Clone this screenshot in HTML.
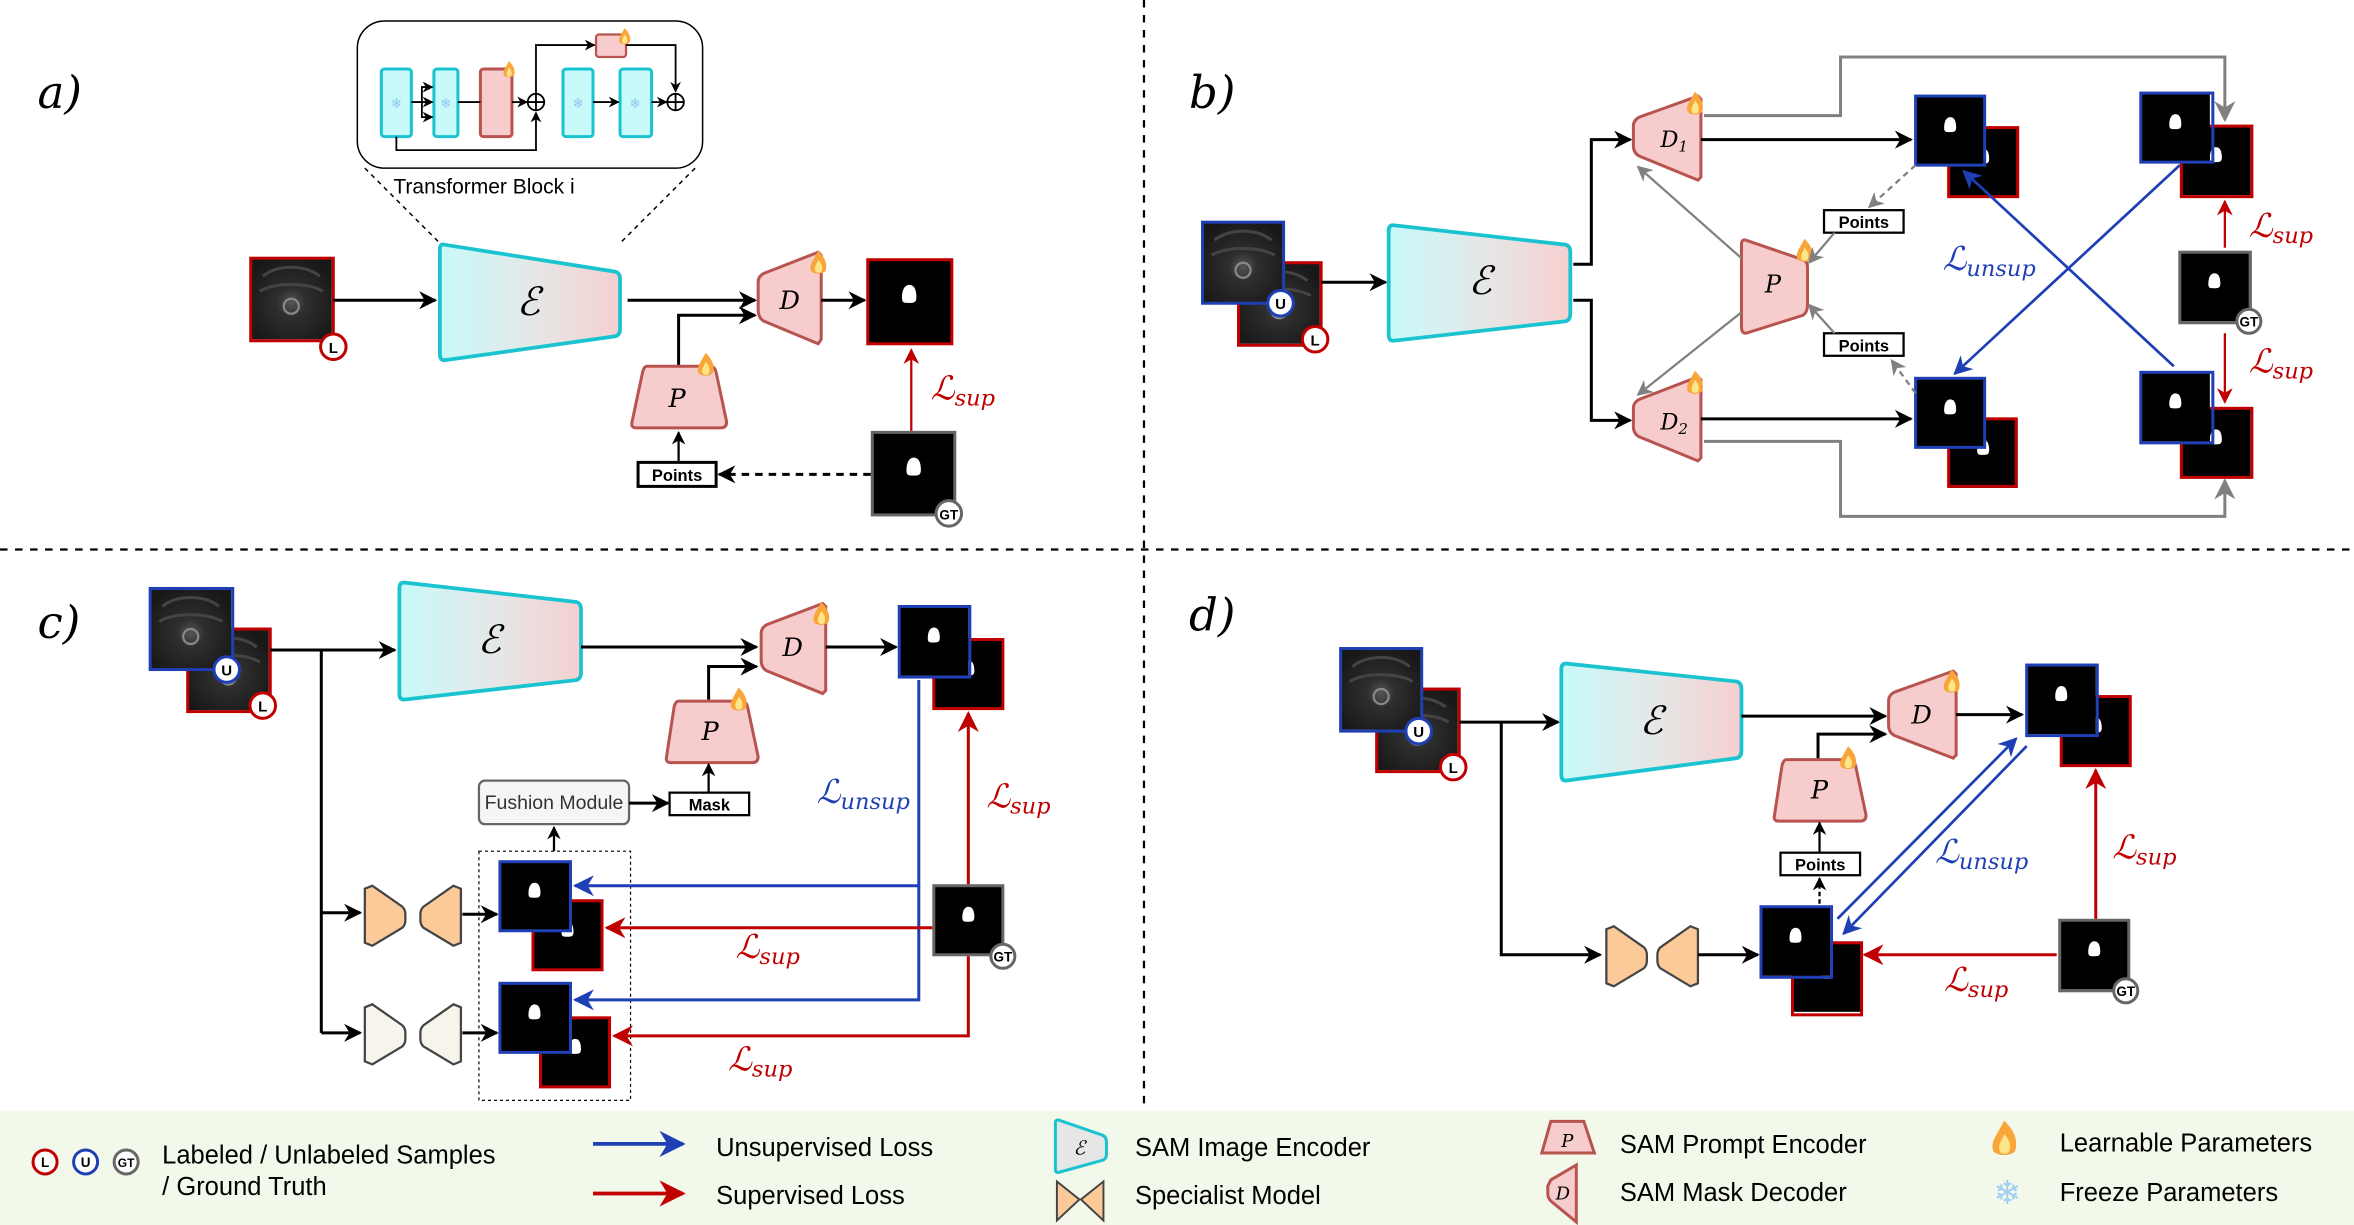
<!DOCTYPE html>
<html><head><meta charset="utf-8"><style>
html,body{margin:0;padding:0;background:#fff;}
svg{display:block;}
text{font-family:"Liberation Sans","DejaVu Sans",sans-serif;}
.m{font-family:"DejaVu Serif","Liberation Serif",serif;font-style:italic;}
</style></head><body>
<svg width="2354" height="1225" viewBox="0 0 1568 816" xmlns="http://www.w3.org/2000/svg">
<defs>
<linearGradient id="eg" x1="0" x2="1" y1="0" y2="0"><stop offset="0" stop-color="#c8fafa"/><stop offset="0.55" stop-color="#e6e6e6"/><stop offset="1" stop-color="#f6cfcf"/></linearGradient>
<radialGradient id="mri" cx="0.5" cy="0.55" r="0.6"><stop offset="0" stop-color="#555"/><stop offset="0.3" stop-color="#2e2e2e"/><stop offset="1" stop-color="#181818"/></radialGradient>
<marker id="ak" viewBox="0 0 10 10" refX="9" refY="5" markerWidth="6" markerHeight="6" orient="auto"><path d="M0,0 L10,5 L0,10 L3,5z" fill="#000"/></marker>
<marker id="ab" viewBox="0 0 10 10" refX="9" refY="5" markerWidth="7" markerHeight="7" orient="auto"><path d="M0,0 L10,5 L0,10 L3,5z" fill="#1f3fb5"/></marker>
<marker id="ar" viewBox="0 0 10 10" refX="9" refY="5" markerWidth="7" markerHeight="7" orient="auto"><path d="M0,0 L10,5 L0,10 L3,5z" fill="#c00000"/></marker>
<marker id="ag" viewBox="0 0 10 10" refX="9" refY="5" markerWidth="7" markerHeight="7" orient="auto"><path d="M0,0 L10,5 L0,10 L3,5z" fill="#808080"/></marker>
<g id="fl"><path d="M0,-9 C5,-4 6,0 5,4 C4,7 -4,7 -5,4 C-6,0 -3,-3 0,-9z" fill="#f9a53a"/><path d="M0,-3 C3,0 3,3 2,5 C1,6 -2,6 -2,4 C-3,2 -1,0 0,-3z" fill="#fde68a"/></g>
<g id="mk"><rect x="0" y="0" width="46" height="46" fill="#000"/><path d="M19,21 C19,16 21,14 23,14 C26,14 27,17 27,21 C27,24 25,24 23,24 C20,24 19,24 19,21z" fill="#fff"/></g>
<g id="img"><rect x="0" y="0" width="54" height="54" fill="url(#mri)"/><circle cx="27" cy="32" r="5" fill="none" stroke="#888" stroke-width="1.5"/><path d="M8,12 C18,4 36,4 46,12 M6,22 C16,16 38,16 48,22" stroke="#444" fill="none" stroke-width="2"/></g>
</defs>

<!-- dividers -->
<line x1="762" y1="0" x2="762" y2="738" stroke="#000" stroke-width="1.5" stroke-dasharray="5,5"/>
<line x1="0" y1="366" x2="1568" y2="366" stroke="#000" stroke-width="1.5" stroke-dasharray="5,5"/>

<!-- ========== panel a ========== -->
<text x="25" y="72" class="m" font-size="30">a)</text>
<rect x="238" y="14" width="230" height="98" rx="18" fill="#fff" stroke="#000" stroke-width="1"/>
<rect x="254" y="46" width="20" height="45" rx="2" fill="#c8fafa" stroke="#19c3cf" stroke-width="2"/>
<rect x="289" y="46" width="16" height="45" rx="2" fill="#c8fafa" stroke="#19c3cf" stroke-width="2"/>
<rect x="320" y="46" width="21" height="45" rx="2" fill="#f6cccc" stroke="#b85450" stroke-width="2"/>
<rect x="375" y="46" width="20" height="45" rx="2" fill="#c8fafa" stroke="#19c3cf" stroke-width="2"/>
<rect x="413" y="46" width="21" height="45" rx="2" fill="#c8fafa" stroke="#19c3cf" stroke-width="2"/>
<rect x="397" y="23" width="20" height="15" rx="2" fill="#f6cccc" stroke="#b85450" stroke-width="1.5"/>
<use href="#fl" transform="translate(339,47) scale(0.7)"/><use href="#fl" transform="translate(416,25) scale(0.7)"/>
<text x="264" y="72" font-size="9" fill="#8cc8f0" text-anchor="middle">❄</text><text x="297" y="72" font-size="9" fill="#8cc8f0" text-anchor="middle">❄</text>
<text x="385" y="72" font-size="9" fill="#8cc8f0" text-anchor="middle">❄</text><text x="423" y="72" font-size="9" fill="#8cc8f0" text-anchor="middle">❄</text>
<g stroke="#000" stroke-width="1.2" fill="none">
<path d="M274,68 H288" marker-end="url(#ak)"/><path d="M281,68 V58 H288" marker-end="url(#ak)"/><path d="M281,68 V78 H288" marker-end="url(#ak)"/>
<path d="M305,68 H320"/><path d="M341,68 H351" marker-end="url(#ak)"/>
<circle cx="357" cy="68" r="5.5"/><path d="M351.5,68 H362.5 M357,62.5 V73.5"/>
<path d="M264,91 V100 H357 V75" marker-end="url(#ak)"/>
<path d="M357,62 V30 H396" marker-end="url(#ak)"/><path d="M417,30 H450 V61" marker-end="url(#ak)"/>
<path d="M395,68 H412" marker-end="url(#ak)"/><path d="M434,68 H444" marker-end="url(#ak)"/>
<circle cx="450" cy="68" r="5.5"/><path d="M444.5,68 H455.5 M450,62.5 V73.5"/>
</g>
<text x="262" y="129" font-size="14">Transformer Block i</text>
<line x1="243" y1="112" x2="293" y2="162" stroke="#000" stroke-dasharray="3,3"/>
<line x1="463" y1="112" x2="413" y2="162" stroke="#000" stroke-dasharray="3,3"/>
<use href="#img" transform="translate(167,172)"/><rect x="167" y="172" width="55" height="55" fill="none" stroke="#c00000" stroke-width="2"/>
<circle cx="222" cy="231" r="8.5" fill="#fff" stroke="#c00000" stroke-width="2"/><text x="222" y="235" font-size="10" font-weight="bold" text-anchor="middle">L</text>
<line x1="222" y1="200" x2="290" y2="200" stroke="#000" stroke-width="2" marker-end="url(#ak)"/>
<path d="M296,163 L410,181 Q413,182 413,186 L413,219 Q413,223 410,224 L296,240 Q293,240 293,236 L293,166 Q293,162 296,163z" fill="url(#eg)" stroke="#19c3cf" stroke-width="2.5"/>
<text x="352" y="210" class="m" font-size="26" text-anchor="middle">ℰ</text>
<line x1="418" y1="200" x2="503" y2="200" stroke="#000" stroke-width="2" marker-end="url(#ak)"/>
<path d="M452,244 V210 H503" stroke="#000" stroke-width="2" fill="none" marker-end="url(#ak)"/>
<path d="M509,182 L545,168 L547,170 L547,226 L545,229 L509,214 Q505,212 505,206 L505,188 Q505,184 509,182z" fill="#f6cccc" stroke="#b85450" stroke-width="2"/>
<use href="#fl" transform="translate(545,176)"/>
<text x="526" y="206" class="m" font-size="17" text-anchor="middle">D</text>
<line x1="547" y1="200" x2="576" y2="200" stroke="#000" stroke-width="2" marker-end="url(#ak)"/>
<use href="#mk" transform="translate(578,173) scale(1.2)"/><rect x="578" y="173" width="56" height="56" fill="none" stroke="#c00000" stroke-width="2"/>
<line x1="607" y1="287" x2="607" y2="233" stroke="#c00000" stroke-width="1.5" marker-end="url(#ar)"/>
<text x="620" y="266" class="m" font-size="22" fill="#c00000">ℒ<tspan font-size="15" dy="4">sup</tspan></text>
<use href="#mk" transform="translate(581,288) scale(1.2)"/><rect x="581" y="288" width="55" height="55" fill="none" stroke="#666" stroke-width="2"/>
<circle cx="632" cy="342" r="8.5" fill="#fff" stroke="#666" stroke-width="2"/><text x="632" y="346" font-size="9" font-weight="bold" text-anchor="middle">GT</text>
<line x1="580" y1="316" x2="479" y2="316" stroke="#000" stroke-width="2" stroke-dasharray="5,4" marker-end="url(#ak)"/>
<rect x="425" y="308" width="52" height="16" fill="#fff" stroke="#000" stroke-width="2"/><text x="451" y="320.5" font-size="11" font-weight="bold" text-anchor="middle">Points</text>
<line x1="452" y1="307" x2="452" y2="288" stroke="#000" stroke-width="1.5" marker-end="url(#ak)"/>
<path d="M431,244 L473,244 Q476,244 477,248 L484,281 Q484,285 480,285 L424,285 Q420,285 421,281 L428,248 Q429,244 431,244z" fill="#f6cccc" stroke="#b85450" stroke-width="2"/>
<use href="#fl" transform="translate(470,244)"/>
<text x="451" y="271" class="m" font-size="17" text-anchor="middle">P</text>

<!-- ========== panel b ========== -->
<text x="792" y="72" class="m" font-size="30">b)</text>
<use href="#img" transform="translate(825,175)"/><rect x="825" y="175" width="55" height="55" fill="none" stroke="#c00000" stroke-width="2"/>
<use href="#img" transform="translate(801,148)"/><rect x="801" y="148" width="54" height="54" fill="none" stroke="#1f3fb5" stroke-width="2"/>
<circle cx="853" cy="202" r="8.5" fill="#fff" stroke="#1f3fb5" stroke-width="2"/><text x="853" y="206" font-size="10" font-weight="bold" text-anchor="middle">U</text>
<circle cx="876" cy="226" r="8.5" fill="#fff" stroke="#c00000" stroke-width="2"/><text x="876" y="230" font-size="10" font-weight="bold" text-anchor="middle">L</text>
<line x1="880" y1="188" x2="923" y2="188" stroke="#000" stroke-width="2" marker-end="url(#ak)"/>
<path d="M928,150 L1043,163 Q1046,164 1046,168 L1046,209 Q1046,213 1043,214 L928,227 Q925,227 925,223 L925,154 Q925,150 928,150z" fill="url(#eg)" stroke="#19c3cf" stroke-width="2.5"/>
<text x="986" y="196" class="m" font-size="26" text-anchor="middle">ℰ</text>
<path d="M1048,176 H1060 V93 H1086" stroke="#000" stroke-width="2" fill="none" marker-end="url(#ak)"/>
<path d="M1048,200 H1060 V280 H1086" stroke="#000" stroke-width="2" fill="none" marker-end="url(#ak)"/>
<path d="M1092,78 L1131,64 L1133,66 L1133,118 L1131,120 L1092,104 Q1088,102 1088,97 L1088,84 Q1088,80 1092,78z" fill="#f6cccc" stroke="#b85450" stroke-width="2"/>
<use href="#fl" transform="translate(1129,70)"/>
<text x="1106" y="98" class="m" font-size="15">D<tspan font-size="10" dy="3">1</tspan></text>
<path d="M1092,266 L1131,251 L1133,253 L1133,305 L1131,307 L1092,291 Q1088,289 1088,284 L1088,272 Q1088,268 1092,266z" fill="#f6cccc" stroke="#b85450" stroke-width="2"/>
<use href="#fl" transform="translate(1129,256)"/>
<text x="1106" y="286" class="m" font-size="15">D<tspan font-size="10" dy="3">2</tspan></text>
<path d="M1163,160 L1201,173 Q1204,174 1204,178 L1204,203 Q1204,208 1201,210 L1163,222 Q1160,222 1160,218 L1160,163 Q1160,159 1163,160z" fill="#f6cccc" stroke="#b85450" stroke-width="2"/>
<use href="#fl" transform="translate(1202,168)"/>
<text x="1181" y="195" class="m" font-size="16" text-anchor="middle">P</text>
<line x1="1160" y1="172" x2="1091" y2="111" stroke="#808080" stroke-width="1.5" marker-end="url(#ag)"/>
<line x1="1160" y1="208" x2="1091" y2="263" stroke="#808080" stroke-width="1.5" marker-end="url(#ag)"/>
<line x1="1133" y1="93" x2="1273" y2="93" stroke="#000" stroke-width="2" marker-end="url(#ak)"/>
<line x1="1133" y1="279" x2="1273" y2="279" stroke="#000" stroke-width="2" marker-end="url(#ak)"/>
<use href="#mk" transform="translate(1298,85)"/><rect x="1298" y="85" width="46" height="46" fill="none" stroke="#c00000" stroke-width="2"/>
<use href="#mk" transform="translate(1276,64)"/><rect x="1276" y="64" width="46" height="46" fill="none" stroke="#1f3fb5" stroke-width="2"/>
<use href="#mk" transform="translate(1298,279)"/><rect x="1298" y="279" width="45" height="45" fill="none" stroke="#c00000" stroke-width="2"/>
<use href="#mk" transform="translate(1276,252)"/><rect x="1276" y="252" width="46" height="46" fill="none" stroke="#1f3fb5" stroke-width="2"/>
<rect x="1215" y="140" width="53" height="15" fill="#fff" stroke="#000" stroke-width="1.5"/><text x="1241.5" y="152" font-size="11" font-weight="bold" text-anchor="middle">Points</text>
<rect x="1215" y="222" width="53" height="15" fill="#fff" stroke="#000" stroke-width="1.5"/><text x="1241.5" y="234" font-size="11" font-weight="bold" text-anchor="middle">Points</text>
<line x1="1276" y1="110" x2="1245" y2="138" stroke="#808080" stroke-width="1.5" stroke-dasharray="4,3" marker-end="url(#ag)"/>
<line x1="1276" y1="262" x2="1260" y2="240" stroke="#808080" stroke-width="1.5" stroke-dasharray="4,3" marker-end="url(#ag)"/>
<line x1="1222" y1="155" x2="1205" y2="175" stroke="#808080" stroke-width="1.5" marker-end="url(#ag)"/>
<line x1="1222" y1="222" x2="1205" y2="203" stroke="#808080" stroke-width="1.5" marker-end="url(#ag)"/>
<use href="#mk" transform="translate(1453,84)"/><rect x="1453" y="84" width="47" height="47" fill="none" stroke="#c00000" stroke-width="2"/>
<use href="#mk" transform="translate(1426,62)"/><rect x="1426" y="62" width="48" height="46" fill="none" stroke="#1f3fb5" stroke-width="2"/>
<use href="#mk" transform="translate(1453,272)"/><rect x="1453" y="272" width="47" height="46" fill="none" stroke="#c00000" stroke-width="2"/>
<use href="#mk" transform="translate(1426,248)"/><rect x="1426" y="248" width="48" height="47" fill="none" stroke="#1f3fb5" stroke-width="2"/>
<use href="#mk" transform="translate(1452,168)"/><rect x="1452" y="168" width="47" height="47" fill="none" stroke="#666" stroke-width="2"/>
<circle cx="1498" cy="214" r="8" fill="#fff" stroke="#666" stroke-width="2"/><text x="1498" y="217.5" font-size="9" font-weight="bold" text-anchor="middle">GT</text>
<line x1="1482" y1="165" x2="1482" y2="134" stroke="#c00000" stroke-width="1.5" marker-end="url(#ar)"/>
<line x1="1482" y1="222" x2="1482" y2="268" stroke="#c00000" stroke-width="1.5" marker-end="url(#ar)"/>
<text x="1498" y="158" class="m" font-size="22" fill="#c00000">ℒ<tspan font-size="15" dy="4">sup</tspan></text>
<text x="1498" y="248" class="m" font-size="22" fill="#c00000">ℒ<tspan font-size="15" dy="4">sup</tspan></text>
<line x1="1452" y1="110" x2="1302" y2="249" stroke="#1f3fb5" stroke-width="1.8" marker-end="url(#ab)"/>
<line x1="1448" y1="244" x2="1308" y2="114" stroke="#1f3fb5" stroke-width="1.8" marker-end="url(#ab)"/>
<text x="1294" y="180" class="m" font-size="22" fill="#1f3fb5">ℒ<tspan font-size="15" dy="4">unsup</tspan></text>
<path d="M1135,77 H1226 V38 H1482 V80" stroke="#808080" stroke-width="2" fill="none" marker-end="url(#ag)"/>
<path d="M1135,294 H1226 V344 H1482 V320" stroke="#808080" stroke-width="2" fill="none" marker-end="url(#ag)"/>

<!-- ========== panel c ========== -->
<text x="25" y="425" class="m" font-size="30">c)</text>
<use href="#img" transform="translate(125,419)"/><rect x="125" y="419" width="55" height="55" fill="none" stroke="#c00000" stroke-width="2"/>
<use href="#img" transform="translate(100,392)"/><rect x="100" y="392" width="55" height="54" fill="none" stroke="#1f3fb5" stroke-width="2"/>
<circle cx="151" cy="446" r="8.5" fill="#fff" stroke="#1f3fb5" stroke-width="2"/><text x="151" y="450" font-size="10" font-weight="bold" text-anchor="middle">U</text>
<circle cx="175" cy="470" r="8.5" fill="#fff" stroke="#c00000" stroke-width="2"/><text x="175" y="474" font-size="10" font-weight="bold" text-anchor="middle">L</text>
<line x1="180" y1="433" x2="263" y2="433" stroke="#000" stroke-width="2" marker-end="url(#ak)"/>
<path d="M214,433 V688" stroke="#000" stroke-width="2" fill="none"/>
<line x1="214" y1="608" x2="240" y2="608" stroke="#000" stroke-width="2" marker-end="url(#ak)"/>
<line x1="214" y1="688" x2="240" y2="688" stroke="#000" stroke-width="2" marker-end="url(#ak)"/>
<path d="M269,388 L384,401 Q387,402 387,406 L387,448 Q387,452 384,453 L269,466 Q266,466 266,462 L266,392 Q266,388 269,388z" fill="url(#eg)" stroke="#19c3cf" stroke-width="2.5"/>
<text x="326" y="435" class="m" font-size="26" text-anchor="middle">ℰ</text>
<line x1="387" y1="431" x2="504" y2="431" stroke="#000" stroke-width="2" marker-end="url(#ak)"/>
<path d="M472,466 V444 H504" stroke="#000" stroke-width="2" fill="none" marker-end="url(#ak)"/>
<path d="M511,416 L548,402 L550,404 L550,460 L548,462 L511,447 Q507,445 507,440 L507,422 Q507,418 511,416z" fill="#f6cccc" stroke="#b85450" stroke-width="2"/>
<use href="#fl" transform="translate(547,410)"/>
<text x="528" y="437" class="m" font-size="17" text-anchor="middle">D</text>
<line x1="550" y1="431" x2="597" y2="431" stroke="#000" stroke-width="2" marker-end="url(#ak)"/>
<use href="#mk" transform="translate(622,426)"/><rect x="622" y="426" width="46" height="46" fill="none" stroke="#c00000" stroke-width="2"/>
<use href="#mk" transform="translate(599,404)"/><rect x="599" y="404" width="47" height="47" fill="none" stroke="#1f3fb5" stroke-width="2"/>
<path d="M452,467 L494,467 Q497,467 498,471 L505,504 Q505,508 501,508 L447,508 Q443,508 444,504 L449,471 Q450,467 452,467z" fill="#f6cccc" stroke="#b85450" stroke-width="2"/>
<use href="#fl" transform="translate(492,467)"/>
<text x="473" y="493" class="m" font-size="17" text-anchor="middle">P</text>
<rect x="319" y="520" width="100" height="29" rx="4" fill="#f5f5f5" stroke="#666" stroke-width="1.5"/><text x="369" y="539" font-size="13" text-anchor="middle" fill="#333">Fushion Module</text>
<line x1="419" y1="535" x2="445" y2="535" stroke="#000" stroke-width="2" marker-end="url(#ak)"/>
<rect x="446" y="528" width="53" height="15" fill="#fff" stroke="#000" stroke-width="1.5"/><text x="472.5" y="540" font-size="11" font-weight="bold" text-anchor="middle">Mask</text>
<line x1="472" y1="528" x2="472" y2="509" stroke="#000" stroke-width="1.5" marker-end="url(#ak)"/>
<rect x="319" y="567" width="101" height="166" fill="none" stroke="#000" stroke-width="0.8" stroke-dasharray="2,2"/>
<line x1="369" y1="567" x2="369" y2="551" stroke="#000" stroke-width="1.5" marker-end="url(#ak)"/>
<path d="M243,592 L248,590 L268,604 Q270,606 270,609 L270,613 Q270,616 268,618 L248,630 L243,628z" fill="#fcc999" stroke="#444" stroke-width="1.5"/>
<path d="M282,604 L302,590 L307,592 L307,628 L302,630 L282,618 Q280,616 280,613 L280,609 Q280,606 282,604z" fill="#fcc999" stroke="#444" stroke-width="1.5"/>
<path d="M243,671 L248,669 L268,683 Q270,685 270,688 L270,692 Q270,695 268,697 L248,709 L243,707z" fill="#f7f4ec" stroke="#444" stroke-width="1.5"/>
<path d="M282,683 L302,669 L307,671 L307,707 L302,709 L282,697 Q280,695 280,692 L280,688 Q280,685 282,683z" fill="#f7f4ec" stroke="#444" stroke-width="1.5"/>
<line x1="308" y1="609" x2="331" y2="609" stroke="#000" stroke-width="2" marker-end="url(#ak)"/>
<line x1="308" y1="688" x2="331" y2="688" stroke="#000" stroke-width="2" marker-end="url(#ak)"/>
<use href="#mk" transform="translate(355,600)"/><rect x="355" y="600" width="46" height="46" fill="none" stroke="#c00000" stroke-width="2"/>
<use href="#mk" transform="translate(333,574)"/><rect x="333" y="574" width="47" height="46" fill="none" stroke="#1f3fb5" stroke-width="2"/>
<use href="#mk" transform="translate(360,678)"/><rect x="360" y="678" width="46" height="46" fill="none" stroke="#c00000" stroke-width="2"/>
<use href="#mk" transform="translate(333,655)"/><rect x="333" y="655" width="47" height="46" fill="none" stroke="#1f3fb5" stroke-width="2"/>
<use href="#mk" transform="translate(622,590)"/><rect x="622" y="590" width="46" height="46" fill="none" stroke="#666" stroke-width="2"/>
<circle cx="668" cy="637" r="8" fill="#fff" stroke="#666" stroke-width="2"/><text x="668" y="640.5" font-size="9" font-weight="bold" text-anchor="middle">GT</text>
<path d="M612,453 V590 H383" stroke="#1f3fb5" stroke-width="2" fill="none" marker-end="url(#ab)"/>
<path d="M612,590 V666 H383" stroke="#1f3fb5" stroke-width="2" fill="none" marker-end="url(#ab)"/>
<line x1="645" y1="589" x2="645" y2="475" stroke="#c00000" stroke-width="2" marker-end="url(#ar)"/>
<line x1="621" y1="618" x2="404" y2="618" stroke="#c00000" stroke-width="2" marker-end="url(#ar)"/>
<path d="M645,637 V690 H409" stroke="#c00000" stroke-width="2" fill="none" marker-end="url(#ar)"/>
<text x="544" y="535" class="m" font-size="22" fill="#1f3fb5">ℒ<tspan font-size="15" dy="4">unsup</tspan></text>
<text x="657" y="538" class="m" font-size="22" fill="#c00000">ℒ<tspan font-size="15" dy="4">sup</tspan></text>
<text x="490" y="638" class="m" font-size="22" fill="#c00000">ℒ<tspan font-size="15" dy="4">sup</tspan></text>
<text x="485" y="713" class="m" font-size="22" fill="#c00000">ℒ<tspan font-size="15" dy="4">sup</tspan></text>

<!-- ========== panel d ========== -->
<text x="792" y="420" class="m" font-size="30">d)</text>
<use href="#img" transform="translate(917,459)"/><rect x="917" y="459" width="55" height="55" fill="none" stroke="#c00000" stroke-width="2"/>
<use href="#img" transform="translate(893,432)"/><rect x="893" y="432" width="54" height="55" fill="none" stroke="#1f3fb5" stroke-width="2"/>
<circle cx="945" cy="487" r="8.5" fill="#fff" stroke="#1f3fb5" stroke-width="2"/><text x="945" y="491" font-size="10" font-weight="bold" text-anchor="middle">U</text>
<circle cx="968" cy="511" r="8.5" fill="#fff" stroke="#c00000" stroke-width="2"/><text x="968" y="515" font-size="10" font-weight="bold" text-anchor="middle">L</text>
<line x1="972" y1="481" x2="1038" y2="481" stroke="#000" stroke-width="2" marker-end="url(#ak)"/>
<path d="M1000,481 V636 H1066" stroke="#000" stroke-width="2" fill="none" marker-end="url(#ak)"/>
<path d="M1043,442 L1157,454 Q1160,455 1160,459 L1160,500 Q1160,504 1157,505 L1043,520 Q1040,520 1040,516 L1040,446 Q1040,442 1043,442z" fill="url(#eg)" stroke="#19c3cf" stroke-width="2.5"/>
<text x="1100" y="489" class="m" font-size="26" text-anchor="middle">ℰ</text>
<line x1="1160" y1="477" x2="1256" y2="477" stroke="#000" stroke-width="2" marker-end="url(#ak)"/>
<path d="M1211,506 V489 H1256" stroke="#000" stroke-width="2" fill="none" marker-end="url(#ak)"/>
<path d="M1262,461 L1301,447 L1303,449 L1303,503 L1301,505 L1262,490 Q1258,488 1258,483 L1258,467 Q1258,463 1262,461z" fill="#f6cccc" stroke="#b85450" stroke-width="2"/>
<use href="#fl" transform="translate(1300,455)"/>
<text x="1280" y="482" class="m" font-size="17" text-anchor="middle">D</text>
<line x1="1303" y1="476" x2="1347" y2="476" stroke="#000" stroke-width="2" marker-end="url(#ak)"/>
<use href="#mk" transform="translate(1373,464)"/><rect x="1373" y="464" width="46" height="46" fill="none" stroke="#c00000" stroke-width="2"/>
<use href="#mk" transform="translate(1350,443)"/><rect x="1350" y="443" width="47" height="47" fill="none" stroke="#1f3fb5" stroke-width="2"/>
<path d="M1190,506 L1232,506 Q1235,506 1236,510 L1243,543 Q1243,547 1239,547 L1185,547 Q1181,547 1182,543 L1187,510 Q1188,506 1190,506z" fill="#f6cccc" stroke="#b85450" stroke-width="2"/>
<use href="#fl" transform="translate(1231,506)"/>
<text x="1212" y="532" class="m" font-size="17" text-anchor="middle">P</text>
<rect x="1186" y="568" width="53" height="15" fill="#fff" stroke="#000" stroke-width="1.5"/><text x="1212.5" y="580" font-size="11" font-weight="bold" text-anchor="middle">Points</text>
<line x1="1212" y1="568" x2="1212" y2="548" stroke="#000" stroke-width="1.5" marker-end="url(#ak)"/>
<line x1="1212" y1="602" x2="1212" y2="585" stroke="#000" stroke-width="1.5" stroke-dasharray="3,2" marker-end="url(#ak)"/>
<path d="M1070,619 L1075,617 L1095,631 Q1097,633 1097,636 L1097,640 Q1097,643 1095,645 L1075,657 L1070,655z" fill="#fcc999" stroke="#444" stroke-width="1.5"/>
<path d="M1106,631 L1126,617 L1131,619 L1131,655 L1126,657 L1106,645 Q1104,643 1104,640 L1104,636 Q1104,633 1106,631z" fill="#fcc999" stroke="#444" stroke-width="1.5"/>
<line x1="1131" y1="636" x2="1171" y2="636" stroke="#000" stroke-width="2" marker-end="url(#ak)"/>
<use href="#mk" transform="translate(1194,628)"/><rect x="1194" y="628" width="46" height="48" fill="none" stroke="#c00000" stroke-width="2"/>
<use href="#mk" transform="translate(1173,604)"/><rect x="1173" y="604" width="47" height="47" fill="none" stroke="#1f3fb5" stroke-width="2"/>
<use href="#mk" transform="translate(1372,613)"/><rect x="1372" y="613" width="46" height="47" fill="none" stroke="#666" stroke-width="2"/>
<circle cx="1416" cy="660" r="8" fill="#fff" stroke="#666" stroke-width="2"/><text x="1416" y="663.5" font-size="9" font-weight="bold" text-anchor="middle">GT</text>
<line x1="1396" y1="612" x2="1396" y2="513" stroke="#c00000" stroke-width="2" marker-end="url(#ar)"/>
<line x1="1370" y1="636" x2="1242" y2="636" stroke="#c00000" stroke-width="2" marker-end="url(#ar)"/>
<line x1="1224" y1="612" x2="1343" y2="492" stroke="#1f3fb5" stroke-width="1.8" marker-end="url(#ab)"/>
<line x1="1350" y1="497" x2="1228" y2="622" stroke="#1f3fb5" stroke-width="1.8" marker-end="url(#ab)"/>
<text x="1289" y="575" class="m" font-size="22" fill="#1f3fb5">ℒ<tspan font-size="15" dy="4">unsup</tspan></text>
<text x="1407" y="572" class="m" font-size="22" fill="#c00000">ℒ<tspan font-size="15" dy="4">sup</tspan></text>
<text x="1295" y="660" class="m" font-size="22" fill="#c00000">ℒ<tspan font-size="15" dy="4">sup</tspan></text>

<!-- ========== legend ========== -->
<rect x="0" y="740" width="1568" height="76" fill="#f3f9ea"/>
<circle cx="30" cy="774" r="8" fill="#fff" stroke="#c00000" stroke-width="2"/><text x="30" y="777.5" font-size="9" font-weight="bold" text-anchor="middle">L</text>
<circle cx="57" cy="774" r="8" fill="#fff" stroke="#1f3fb5" stroke-width="2"/><text x="57" y="777.5" font-size="9" font-weight="bold" text-anchor="middle">U</text>
<circle cx="84" cy="774" r="8" fill="#fff" stroke="#666" stroke-width="2"/><text x="84" y="777.5" font-size="8" font-weight="bold" text-anchor="middle">GT</text>
<text x="108" y="775" font-size="17">Labeled / Unlabeled Samples</text>
<text x="108" y="796" font-size="17">/ Ground Truth</text>
<line x1="395" y1="762" x2="455" y2="762" stroke="#1f3fb5" stroke-width="2.5" marker-end="url(#ab)"/>
<line x1="395" y1="795" x2="455" y2="795" stroke="#c00000" stroke-width="2.5" marker-end="url(#ar)"/>
<text x="477" y="770" font-size="17">Unsupervised Loss</text>
<text x="477" y="802" font-size="17">Supervised Loss</text>
<path d="M705,746 L734,756 Q737,757 737,761 L737,769 Q737,772 734,773 L705,781 Q703,781 703,779 L703,748 Q703,746 705,746z" fill="#e6e6e6" stroke="#19c3cf" stroke-width="2"/>
<text x="719" y="769" class="m" font-size="13" text-anchor="middle">ℰ</text>
<path d="M704,787 L719,799 L704,813z" fill="#fcc999" stroke="#444" stroke-width="1.3"/><path d="M735,787 L720,799 L735,813z" fill="#fcc999" stroke="#444" stroke-width="1.3"/>
<text x="756" y="770" font-size="17">SAM Image Encoder</text>
<text x="756" y="802" font-size="17">Specialist Model</text>
<path d="M1033,747 L1055,747 L1062,768 L1027,768z" fill="#f6cccc" stroke="#b85450" stroke-width="2"/>
<text x="1044" y="764" class="m" font-size="12" text-anchor="middle">P</text>
<path d="M1033,786 L1050,776 L1050,814 L1033,800 Q1031,798 1031,795 L1031,790z" fill="#f6cccc" stroke="#b85450" stroke-width="2"/>
<text x="1041" y="799" class="m" font-size="12" text-anchor="middle">D</text>
<text x="1079" y="768" font-size="17">SAM Prompt Encoder</text>
<text x="1079" y="800" font-size="17">SAM Mask Decoder</text>
<use href="#fl" transform="translate(1335,760) scale(1.5)"/>
<text x="1337" y="802" font-size="22" fill="#9ccff0" text-anchor="middle">❄</text>
<text x="1372" y="767" font-size="17">Learnable Parameters</text>
<text x="1372" y="800" font-size="17">Freeze Parameters</text>
</svg>
</body></html>
